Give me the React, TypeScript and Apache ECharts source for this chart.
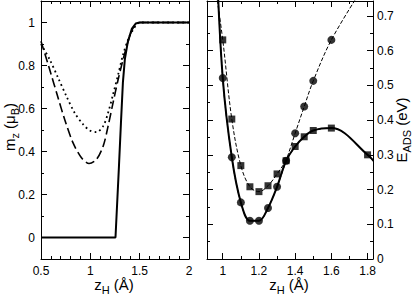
import React, { useEffect, useRef } from 'react';
import * as echarts from 'echarts';

// ---- Left panel: m_z vs z_H ----
const solidZ = [0.5, 1.255, 1.29, 1.31, 1.33, 1.35, 1.38, 1.42, 1.46, 1.5, 2.0];
const solidM = [0, 0, 0.33, 0.53, 0.72, 0.83, 0.91, 0.97, 0.995, 1, 1];

const dashedZ = [0.5, 0.588, 0.673, 0.74, 0.825, 0.91, 0.987, 1.062, 1.13, 1.18, 1.23, 1.282, 1.332, 1.383, 1.434, 1.5, 2.0];
const dashedM = [0.913, 0.781, 0.65, 0.549, 0.44, 0.371, 0.344, 0.363, 0.425, 0.518, 0.626, 0.735, 0.828, 0.913, 0.975, 1, 1];

const dottedZ = [0.5, 0.588, 0.673, 0.758, 0.842, 0.927, 0.995, 1.062, 1.13, 1.18, 1.23, 1.282, 1.332, 1.383, 1.434, 1.5, 2.0];
const dottedM = [0.9, 0.828, 0.743, 0.657, 0.579, 0.526, 0.498, 0.49, 0.518, 0.58, 0.665, 0.758, 0.851, 0.921, 0.967, 1, 1];

// ---- Right panel: E_ADS vs z_H ----
const circleZ = [1.0, 1.05, 1.1, 1.15, 1.2, 1.25, 1.3, 1.35, 1.4, 1.45, 1.5, 1.6];
const circleE = [0.521, 0.293, 0.163, 0.11, 0.11, 0.147, 0.208, 0.283, 0.362, 0.439, 0.513, 0.631];
const squareZ = [1.0, 1.05, 1.1, 1.15, 1.2, 1.25, 1.3, 1.35, 1.4, 1.45, 1.5, 1.6, 1.8];
const squareE = [0.631, 0.403, 0.269, 0.208, 0.194, 0.211, 0.245, 0.283, 0.324, 0.352, 0.37, 0.377, 0.3];
const circleLineStart = [0.965, 0.87];
const circleLineEnd = [1.76, 0.77];
const squareLineStart = [0.96, 0.78];
const squareLineEnd = [1.86, 0.265];

// ---- Axis ticks ----
const leftXMajor = [0.5, 1, 1.5, 2];
const leftXMinor = [0.6, 0.7, 0.8, 0.9, 1.1, 1.2, 1.3, 1.4, 1.6, 1.7, 1.8, 1.9];
const leftYMajor = [0, 0.2, 0.4, 0.6, 0.8, 1];
const leftYMinor = [0.1, 0.3, 0.5, 0.7, 0.9];
const rightXMajor = [1, 1.2, 1.4, 1.6, 1.8];
const rightXMinor = [1.1, 1.3, 1.5, 1.7];
const rightYMajor = [0, 0.1, 0.2, 0.3, 0.4, 0.5, 0.6, 0.7];
const rightYMinor = [0.05, 0.15, 0.25, 0.35, 0.45, 0.55, 0.65];

// ---- Axis titles: [text, isSubscript] ----
const xTitleParts: [string, boolean][] = [['z', false], ['H', true], [' (Å)', false]];
const leftYTitleParts: [string, boolean][] = [['m', false], ['z', true], [' (μ', false], ['B', true], [')', false]];
const rightYTitleParts: [string, boolean][] = [['E', false], ['ADS', true], [' (eV)', false]];

const TICK_FONT = "'Liberation Sans Narrow', 'Liberation Sans', Arial, sans-serif";
const TITLE_FAMILY = "'Liberation Sans', Arial, sans-serif";
const MAIN_SIZE = 15;
const SUB_SIZE = 11;
const SUB_SHIFT = 5.5;

const zip = (xs: number[], ys: number[]) => xs.map((x, i) => [x, ys[i]]);

function axisSet(
  dim: 'x' | 'y',
  grid: number,
  min: number,
  max: number,
  major: number[],
  minor: number[],
  labelSide: string,
  margin: number
) {
  const sides = dim === 'x' ? ['bottom', 'top'] : ['left', 'right'];
  const out: any[] = [];
  for (const side of sides) {
    out.push({
      type: 'value',
      gridIndex: grid,
      position: side,
      min,
      max,
      axisLine: { show: true, onZero: false, lineStyle: { color: '#000', width: 1 } },
      axisTick: { show: true, inside: true, length: 6, customValues: major, lineStyle: { color: '#000', width: 1 } },
      axisLabel: {
        show: side === labelSide,
        customValues: major,
        margin,
        color: '#000',
        fontSize: 12,
        lineHeight: 11,
        fontFamily: TICK_FONT,
      },
      splitLine: { show: false },
    });
    out.push({
      type: 'value',
      gridIndex: grid,
      position: side,
      min,
      max,
      axisLine: { show: false, onZero: false },
      axisTick: { show: true, inside: true, length: 3, customValues: minor, lineStyle: { color: '#000', width: 1 } },
      axisLabel: { show: false },
      splitLine: { show: false },
    });
  }
  return out;
}

function titleGroup(parts: [string, boolean][], cx: number, cy: number, rotation: number) {
  const ctx = document.createElement('canvas').getContext('2d')!;
  const widths = parts.map(([t, sub]) => {
    ctx.font = `${sub ? SUB_SIZE : MAIN_SIZE}px 'Liberation Sans'`;
    return ctx.measureText(t).width;
  });
  const total = widths.reduce((a, b) => a + b, 0);
  let x = -total / 2;
  const children = parts.map(([t, sub], i) => {
    const el = {
      type: 'text',
      x,
      y: sub ? SUB_SHIFT : 0,
      style: {
        text: t,
        fontSize: sub ? SUB_SIZE : MAIN_SIZE,
        fontFamily: TITLE_FAMILY,
        fill: '#000',
        align: 'left',
        verticalAlign: 'middle',
      },
    };
    x += widths[i];
    return el;
  });
  return { type: 'group', x: cx, y: cy, rotation, children };
}

export default function App() {
  const ref = useRef<HTMLDivElement>(null);
  useEffect(() => {
    document.body.style.margin = '0';
    const chart = echarts.init(ref.current!, null, { renderer: 'svg' });

    const envelope: number[][] = [];
    squareZ.forEach((z, i) => {
      const ci = circleZ.indexOf(z);
      envelope.push([z, ci >= 0 ? Math.min(circleE[ci], squareE[i]) : squareE[i]]);
    });
    const envelopeLine = [circleLineStart, ...envelope, squareLineEnd];
    const circleLine = [circleLineStart, ...zip(circleZ, circleE), circleLineEnd];
    const squareLine = [squareLineStart, ...zip(squareZ, squareE), squareLineEnd];

    const xAxes = [
      ...axisSet('x', 0, 0.5, 2, leftXMajor, leftXMinor, 'bottom', 6),
      ...axisSet('x', 1, 0.913, 1.83, rightXMajor, rightXMinor, 'bottom', 6),
    ];
    const yAxes = [
      ...axisSet('y', 0, -0.1, 1.1, leftYMajor, leftYMinor, 'left', 6),
      ...axisSet('y', 1, 0, 0.743, rightYMajor, rightYMinor, 'right', 4),
    ];

    chart.setOption({
      animation: false,
      backgroundColor: '#fff',
      grid: [
        { left: 41, top: 1, width: 148, height: 258 },
        { left: 207, top: 1, width: 166, height: 258 },
      ],
      xAxis: xAxes,
      yAxis: yAxes,
      series: [
        {
          type: 'line', xAxisIndex: 0, yAxisIndex: 0, data: zip(solidZ, solidM),
          showSymbol: false, symbol: 'none', lineStyle: { color: '#000', width: 2 },
        },
        {
          type: 'line', xAxisIndex: 0, yAxisIndex: 0, data: zip(dashedZ, dashedM), smooth: 0.3,
          showSymbol: false, symbol: 'none', lineStyle: { color: '#000', width: 1.6, type: [9, 4] },
        },
        {
          type: 'line', xAxisIndex: 0, yAxisIndex: 0, data: zip(dottedZ, dottedM), smooth: 0.3,
          showSymbol: false, symbol: 'none', lineStyle: { color: '#000', width: 1.8, type: [1.8, 3.2] },
        },
        {
          type: 'line', xAxisIndex: 4, yAxisIndex: 4, data: circleLine, smooth: 0.35,
          showSymbol: false, symbol: 'none', lineStyle: { color: '#000', width: 1, type: [4, 2] },
        },
        {
          type: 'line', xAxisIndex: 4, yAxisIndex: 4, data: squareLine, smooth: 0.35,
          showSymbol: false, symbol: 'none', lineStyle: { color: '#000', width: 1, type: [4, 2] },
        },
        {
          type: 'line', xAxisIndex: 4, yAxisIndex: 4, data: envelopeLine, smooth: 0.35,
          showSymbol: false, symbol: 'none', lineStyle: { color: '#000', width: 2 },
        },
        {
          type: 'scatter', xAxisIndex: 4, yAxisIndex: 4, data: zip(circleZ, circleE),
          symbol: 'circle', symbolSize: 8, itemStyle: { color: '#000' }, z: 5,
        },
        {
          type: 'scatter', xAxisIndex: 4, yAxisIndex: 4, data: zip(squareZ, squareE),
          symbol: 'rect', symbolSize: 7, itemStyle: { color: '#000' }, z: 5,
        },
      ],
      graphic: [
        titleGroup(xTitleParts, 114, 284, 0),
        titleGroup(xTitleParts, 289, 284, 0),
        titleGroup(leftYTitleParts, 9, 127, Math.PI / 2),
        titleGroup(rightYTitleParts, 401, 130, Math.PI / 2),
      ],
    });
    return () => chart.dispose();
  }, []);
  return <div ref={ref} style={{ width: 415, height: 294 }} />;
}
